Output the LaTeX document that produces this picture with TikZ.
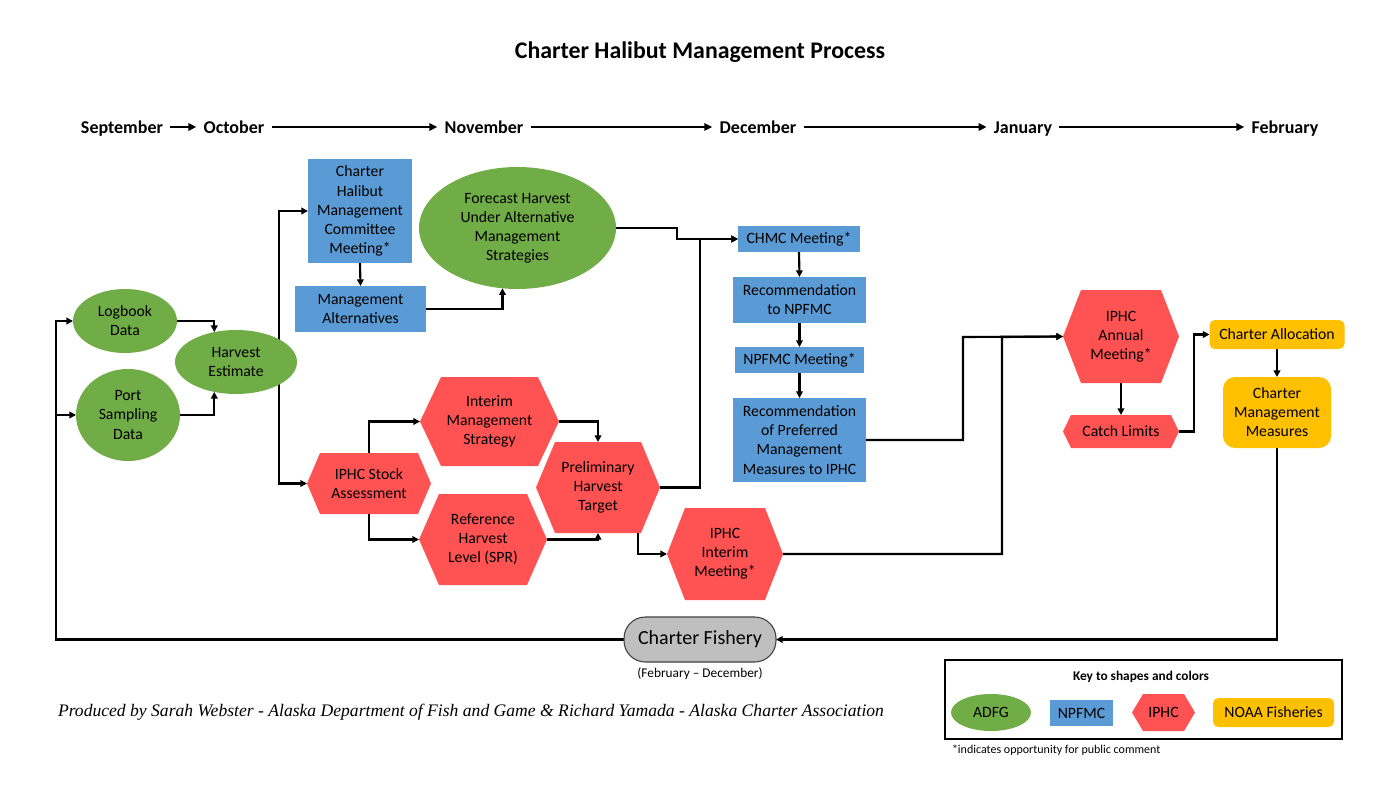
\documentclass[tikz,border=0pt]{standalone}
\usepackage{fontspec}
\setmainfont{Carlito}
\newfontfamily\footfont{Liberation Serif}
\usetikzlibrary{arrows.meta,backgrounds,calc,shapes.geometric}
\definecolor{adfg}{HTML}{70AD47}
\definecolor{npfmc}{HTML}{5B9BD5}
\definecolor{iphc}{HTML}{FF5252}
\definecolor{noaa}{HTML}{FFC000}
\definecolor{fishery}{HTML}{BFBFBF}
\definecolor{fisheryline}{HTML}{404040}
\tikzset{
  base/.style={inner sep=0pt, outer sep=0pt, align=center, text=black, font=\fontsize{11.8}{14.3}\selectfont},
  sz/.style 2 args={minimum width=#1*0.75pt, minimum height=#2*0.75pt},
  adfgnode/.style={base, ellipse, fill=adfg},
  npnode/.style={base, rectangle, fill=npfmc},
  hexlabel/.style={base, rectangle},
  hexfill/.style={fill=iphc},
  noaanode/.style={base, rectangle, fill=noaa, rounded corners=4pt},
  month/.style={font=\fontsize{13.5}{16}\selectfont\bfseries, inner xsep=5.5pt, inner ysep=0pt, outer sep=0pt, text height=1.95ex, text depth=0pt},
  line/.style={line width=1.6pt},
  conn/.style={line width=1.6pt, -{Triangle[length=5pt,width=5pt]}},
  tl/.style={line width=1.7pt, -{Triangle[length=6pt,width=5.5pt]}},
}
% name, cx, cy, w, h, inset, text
\newcommand{\hexnode}[7]{%
  \fill[hexfill] (#2-#4/2,#3) -- (#2-#4/2+#6,#3-#5/2) -- (#2+#4/2-#6,#3-#5/2) -- (#2+#4/2,#3) -- (#2+#4/2-#6,#3+#5/2) -- (#2-#4/2+#6,#3+#5/2) -- cycle;
  \node[hexlabel, sz={#4}{#5}] (#1) at (#2,#3) {#7};}
\begin{document}
\begin{tikzpicture}[x=0.75pt, y=-0.75pt]
\useasboundingbox (0,0) rectangle (1400,788);

% title
\node[font=\fontsize{17.9}{21}\selectfont\bfseries] (title) at (700,52) {Charter Halibut Management Process};

% timeline
\node[month] (sep) at (122,127) {September};
\node[month] (oct) at (234,127) {October};
\node[month] (nov) at (484,127) {November};
\node[month] (dec) at (758,127) {December};
\node[month] (jan) at (1023,127) {January};
\node[month] (feb) at (1285,127) {February};
\draw[tl] (sep) -- (oct);
\draw[tl] (oct) -- (nov);
\draw[tl] (nov) -- (dec);
\draw[tl] (dec) -- (jan);
\draw[tl] (jan) -- (feb);

% ADFG
\node[adfgnode, sz={104}{64}] (lb) at (125,321) {Logbook\\Data};
\node[adfgnode, sz={104}{92}] (ps) at (128,415) {Port\\Sampling\\Data};
\node[adfgnode, sz={122}{64}] (he) at (236,362) {Harvest\\Estimate};
\node[adfgnode, sz={197}{122}] (fh) at (517.5,228) {Forecast Harvest\\Under Alternative\\Management\\Strategies};

% NPFMC
\node[npnode, sz={104}{104}] (chm) at (360,211) {Charter\\Halibut\\Management\\Committee\\Meeting*};
\node[npnode, sz={131}{46}] (ma) at (360.5,309) {Management\\Alternatives};
\node[npnode, sz={122}{26}] (chmc) at (799,239) {CHMC Meeting*};
\node[npnode, sz={133}{46}] (rn) at (799.5,300) {Recommendation\\to NPFMC};
\node[npnode, sz={129}{26}] (nm) at (799.5,360) {NPFMC Meeting*};
\node[npnode, sz={133}{84}] (rp) at (799.5,440) {Recommendation\\of Preferred\\Management\\Measures to IPHC};

% IPHC
\hexnode{sa}{369}{483.5}{124}{61}{13}{IPHC Stock\\Assessment}
\hexnode{ims}{489.5}{421.5}{139}{89}{21}{Interim\\Management\\Strategy}
\hexnode{rhl}{483}{539.5}{128}{91}{20}{Reference\\Harvest\\Level (SPR)}
\hexnode{pht}{598}{487.5}{124}{91}{19}{Preliminary\\Harvest\\Target}
\hexnode{iim}{725}{554}{116}{92}{18}{IPHC\\Interim\\Meeting*}
\hexnode{iam}{1121}{336.5}{116}{93}{18}{IPHC\\Annual\\Meeting*}
\hexnode{cl}{1121}{431.5}{116}{33}{8}{Catch Limits}

% NOAA
\node[noaanode, sz={135}{29}] (ca) at (1277,334.5) {Charter Allocation};
\node[noaanode, sz={108}{71}, rounded corners=9pt] (cmm) at (1277,412.5) {Charter\\Management\\Measures};

% Charter fishery
\node[base, rectangle, fill=fishery, draw=fisheryline, line width=0.8pt, rounded corners=16pt, sz={152}{45}, font=\fontsize{15}{18}\selectfont] (cf) at (700,639.5) {Charter Fishery};
\node[base, font=\fontsize{10}{12}\selectfont] (cfnote) at (700,674) {(February -- December)};

% footer
\node[base, font=\footfont\itshape\fontsize{13.2}{16}\selectfont] (foot) at (471,712) {Produced by Sarah Webster - Alaska Department of Fish and Game \& Richard Yamada - Alaska Charter Association};

% legend
\node[draw=black, line width=1.2pt, sz={397}{79}, inner sep=0pt] (key) at (1143.5,699.5) {};
\node[base, font=\fontsize{10}{12}\selectfont\bfseries] (keytitle) at (1141,677) {Key to shapes and colors};
\node[adfgnode, sz={80}{37}] (kadfg) at (991,712.5) {ADFG};
\node[npnode, sz={63}{26}] (knp) at (1081.5,713) {NPFMC};
\hexnode{kiphc}{1163.5}{712.5}{63}{37}{11}{IPHC}
\node[noaanode, sz={121}{29}] (knoaa) at (1273.5,712.5) {NOAA Fisheries};
\node[base, anchor=west, font=\fontsize{9}{11}\selectfont] (comment) at (952,750) {*indicates opportunity for public comment};

% helper coordinates
\coordinate (hv) at (279,362);
\coordinate (k1) at (677,239);
\coordinate (j1) at (700,239);
\coordinate (m1) at (963,337);
\coordinate (m2) at (1002,337);
\coordinate (lc) at (56,321);

\begin{pgfonlayer}{background}
\fill[white] (0,0) rectangle (1400,788);
\draw[conn] (lb.east) -| (he.126);
\draw[conn] (ps.east) -| (he.234);
\draw[conn] (he.center) -- (hv) |- (chm.west);
\draw[conn] (he.center) -- (hv) |- (sa.west);
\draw[conn] (chm.south) -- (ma.north);
\draw[conn] (ma.east) -| (fh.256);
\draw[conn] (fh.east) -| (k1) -- (chmc.west);
\draw[conn] (pht.east) -| (j1) -- (chmc.west);
\draw[conn] (chmc.south) -- (rn.north);
\draw[conn] (rn.south) -- (nm.north);
\draw[conn] (nm.south) -- (rp.north);
\draw[conn] (sa.north) |- (ims.west);
\draw[conn] (sa.south) |- (rhl.west);
\draw[conn] (ims.east) -| (pht.north);
\draw[conn] (rhl.east) -| (pht.south);
\draw[conn] ($(pht.south)+(40,0)$) |- (iim.west);
\draw[conn] (rp.east) -| (m1) -- (iam.west);
\draw[conn] (iim.east) -| (m2) -- (iam.west);
\draw[conn] (iam.south) -- (cl.north);
\draw[conn] (cl.east) -- ++(15,0) |- (ca.west);
\draw[conn] (ca.south) -- (cmm.north);
\draw[conn] (cmm.south) |- (cf.east);
\draw[conn] (cf.west) -| (lc) -- (lb.west);
\draw[conn] (lc |- ps.west) -- (ps.west);
\end{pgfonlayer}
\end{tikzpicture}
\end{document}
